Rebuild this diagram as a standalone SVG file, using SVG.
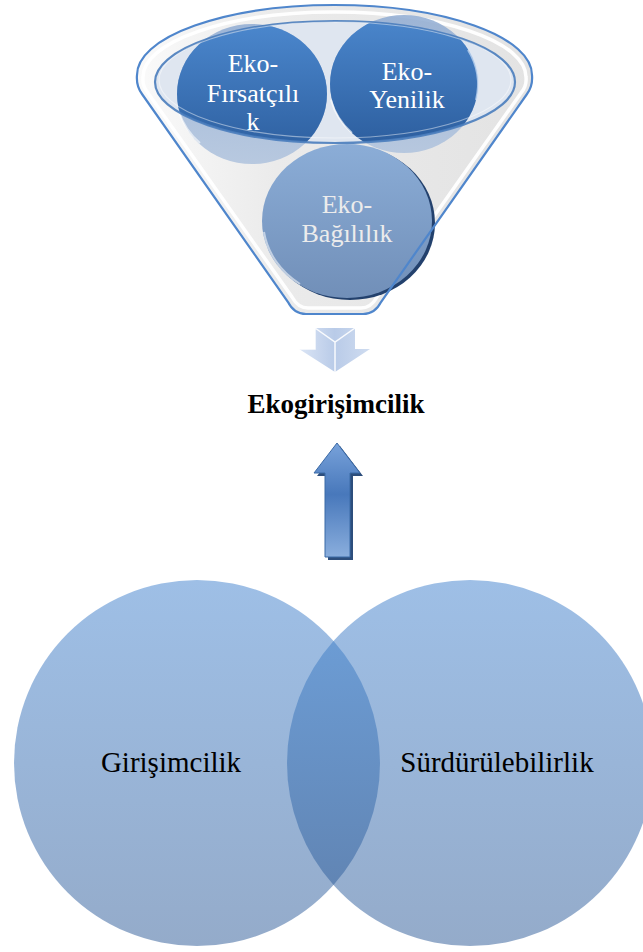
<svg xmlns="http://www.w3.org/2000/svg" width="643" height="952" viewBox="0 0 643 952">
<style>
text{font-family:"Liberation Serif","Times New Roman",Tinos,"DejaVu Serif",serif;text-anchor:middle}
.w{fill:#ffffff;font-size:26px}
.g{fill:#ececec;font-size:26px}
.k{fill:#000000;font-size:29px}
.b{fill:#000000;font-size:27px;font-weight:bold}
</style>
<defs>
<linearGradient id="funnelBody" x1="0" y1="0" x2="1" y2="0">
<stop offset="0" stop-color="#fafafa"/><stop offset="0.35" stop-color="#ebebeb"/><stop offset="1" stop-color="#e3e3e3"/>
</linearGradient>
<linearGradient id="darkBlue" x1="0" y1="0" x2="0" y2="1">
<stop offset="0" stop-color="#4b87cd"/><stop offset="1" stop-color="#2b5c9c"/>
</linearGradient>
<linearGradient id="paleBlue" x1="0" y1="0" x2="0" y2="1">
<stop offset="0" stop-color="#8fabd2"/><stop offset="1" stop-color="#aec2dd"/>
</linearGradient>
<linearGradient id="bagBlue" x1="0" y1="0" x2="0" y2="1">
<stop offset="0" stop-color="#8badd7"/><stop offset="1" stop-color="#718fb8"/>
</linearGradient>
<linearGradient id="vennFill" x1="0" y1="0" x2="0" y2="1">
<stop offset="0" stop-color="#9ebfe6"/><stop offset="1" stop-color="#94abca"/>
</linearGradient>
<linearGradient id="lensFill" x1="0" y1="0" x2="0" y2="1">
<stop offset="0" stop-color="#6c9cd4"/><stop offset="1" stop-color="#6185b4"/>
</linearGradient>
<linearGradient id="upFill" x1="0" y1="0" x2="0" y2="1">
<stop offset="0" stop-color="#78a2da"/><stop offset="0.45" stop-color="#4878bb"/><stop offset="1" stop-color="#8aaedd"/>
</linearGradient>
<linearGradient id="downFill" x1="0" y1="0" x2="1" y2="0">
<stop offset="0" stop-color="#dbe5f5"/><stop offset="0.5" stop-color="#b9cbe8"/><stop offset="1" stop-color="#cfdcf0"/>
</linearGradient>
<clipPath id="rimClip"><ellipse cx="335" cy="82" rx="180" ry="61"/></clipPath>
</defs>

<g id="funnel">
<path d="M 137,75 Q 136,86 142,94 L 288,302 Q 294,314 306,314 L 363,314 Q 375,314 381,302 L 527,94 Q 533,86 532,75 A 197.5 70 0 0 0 137,75 Z" fill="url(#funnelBody)"/>
<path d="M 143,77 Q 142,86 148,93 L 292,297 Q 298,308 308,308 L 361,308 Q 371,308 377,297 L 521,93 Q 527,86 526,77 A 191.5 65 0 0 0 143,77 Z" fill="none" stroke="#ffffff" stroke-width="3.5" opacity="0.95"/>
<ellipse cx="335" cy="82" rx="180" ry="61" fill="#dfe6f0"/>
</g>

<g id="node-firsatcilik">
<ellipse cx="252" cy="94" rx="75" ry="70" fill="url(#paleBlue)" opacity="0.85"/>
<ellipse cx="252" cy="94" rx="75" ry="70" fill="url(#darkBlue)" clip-path="url(#rimClip)"/>
<path d="M 200,143 A 75 70 0 0 1 179,112" fill="none" stroke="#ffffff" stroke-width="2" opacity="0.6"/>
<text class="w" x="253" y="72" font-family="Liberation Serif, serif">Eko-</text>
<text class="w" x="253" y="102" font-family="Liberation Serif, serif">Fırsatçılı</text>
<text class="w" x="253" y="130" font-family="Liberation Serif, serif">k</text>
</g>

<g id="node-yenilik">
<ellipse cx="404" cy="84" rx="74" ry="69" fill="url(#paleBlue)" opacity="0.85"/>
<ellipse cx="404" cy="84" rx="74" ry="69" fill="url(#darkBlue)" clip-path="url(#rimClip)"/>
<path d="M 352,133 A 74 69 0 0 1 331,100" fill="none" stroke="#ffffff" stroke-width="2" opacity="0.6"/>
<path d="M 468,50 A 74 69 0 0 1 476,100" fill="none" stroke="#cfe0f5" stroke-width="2" opacity="0.7"/>
<text class="w" x="407" y="80" font-family="Liberation Serif, serif">Eko-</text>
<text class="w" x="407" y="108" font-family="Liberation Serif, serif">Yenilik</text>
</g>

<ellipse cx="335" cy="82" rx="180" ry="61" fill="none" stroke="#4a7dbd" stroke-width="2.2" opacity="0.9"/>
<ellipse cx="335" cy="80" rx="176" ry="58" fill="none" stroke="#ffffff" stroke-width="1.2" opacity="0.45"/>

<g id="node-bagililik">
<ellipse cx="350" cy="223" rx="85" ry="77" fill="#23416d"/>
<ellipse cx="347" cy="221" rx="85" ry="77" fill="url(#bagBlue)"/>
<path d="M 300,284 A 85 77 0 0 1 264,232" fill="none" stroke="#ffffff" stroke-width="2" opacity="0.55"/>
<text class="g" x="347" y="213" font-family="Liberation Serif, serif">Eko-</text>
<text class="g" x="347" y="242" font-family="Liberation Serif, serif">Bağılılık</text>
</g>

<path d="M 137,75 Q 136,86 142,94 L 288,302 Q 294,314 306,314 L 363,314 Q 375,314 381,302 L 527,94 Q 533,86 532,75 A 197.5 70 0 0 0 137,75 Z" fill="none" stroke="#4f86cc" stroke-width="2.2"/>

<g id="connectors">
<g id="arrow-down">
<path d="M 315,328 L 355,328 L 355,349 L 370,349 L 335,372 L 299,349 L 315,349 Z" fill="url(#downFill)"/>
<path d="M 315,328 L 335,342 L 355,328 M 335,342 L 335,372 M 299,349 L 315,349 L 315,328" fill="none" stroke="#ffffff" stroke-width="1.5" opacity="0.9"/>
</g>
<g id="arrow-up">
<path d="M 340,446 L 363,476 L 353,476 L 353,560 L 328,560 L 328,476 L 317,476 Z" fill="#2d4e7c"/>
<path d="M 337,443 L 360,473 L 350,473 L 350,557 L 325,557 L 325,473 L 314,473 Z" fill="url(#upFill)" stroke="#3b6aa6" stroke-width="1"/>
</g>
</g>

<g id="node-ekogirisimcilik">
<text class="b" x="336" y="413" font-family="Liberation Serif, serif">Ekogirişimcilik</text>
</g>

<g id="node-girisimcilik">
<circle cx="197" cy="763" r="183" fill="url(#vennFill)"/>
</g>
<g id="node-surdurulebilirlik">
<circle cx="470" cy="763" r="183" fill="url(#vennFill)"/>
</g>
<path id="overlap" d="M 333.5,641.1 A 183 183 0 0 1 333.5,884.9 A 183 183 0 0 1 333.5,641.1 Z" fill="url(#lensFill)"/>
<text class="k" x="171" y="772" font-family="Liberation Serif, serif">Girişimcilik</text>
<text class="k" x="497" y="772" font-family="Liberation Serif, serif">Sürdürülebilirlik</text>
</svg>
